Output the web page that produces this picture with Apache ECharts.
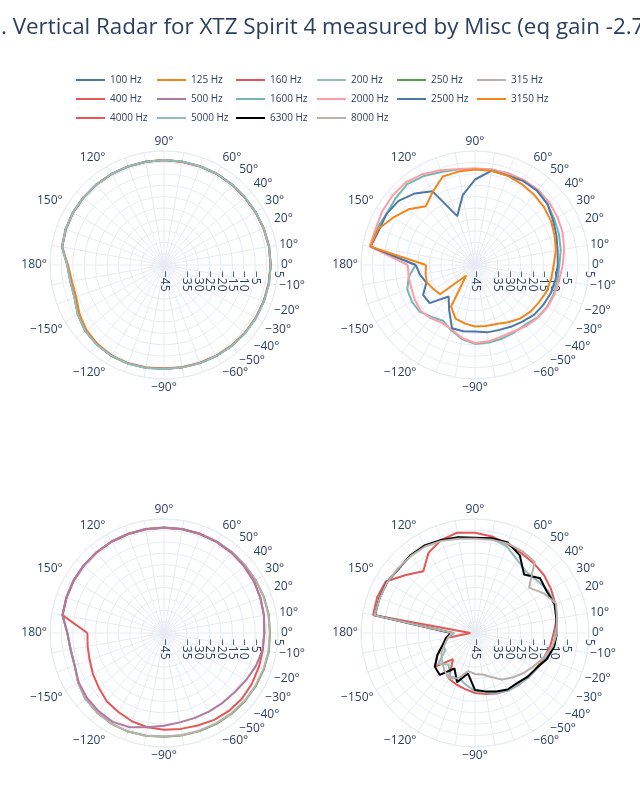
<!DOCTYPE html>
<html><head><meta charset="utf-8">
<script src="https://cdn.jsdelivr.net/npm/echarts@6/dist/echarts.min.js"></script>
<style>html,body{margin:0;padding:0;background:#fff}#c{width:640px;height:800px}</style>
</head><body><div id="c"></div>
<script>
// angles in degrees, -180 .. 170 step 10
const angles = [-180,-170,-160,-150,-140,-130,-120,-110,-100,-90,-80,-70,-60,-50,-40,-30,-20,-10,0,10,20,30,40,50,60,70,80,90,100,110,120,130,140,150,160,170];
const angleTickLabels = [0,10,20,30,40,50,60,90,120,150,180,-150,-120,-90,-60,-50,-40,-30,-20,-10];
const radialTicks = [-45,-40,-35,-30,-25,-20,-15,-10,-5,0,5];

// top-left
const hz100  = [-2.6,-3.3,-3.2,-1.4,0.1,0.7,1.0,1.0,0.8,0.5,0.6,0.8,1.0,1.2,1.4,1.5,1.6,1.7,1.8,1.8,1.6,1.4,1.2,1.2,1.2,1.1,1.0,1.0,1.0,1.0,1.1,1.1,1.1,1.1,0.9,0.4];
const hz125  = [-2.9,-4.0,-4.0,-2.2,-0.6,0.3,0.8,0.9,0.7,0.4,0.5,0.7,0.9,1.1,1.3,1.4,1.5,1.6,1.7,1.7,1.5,1.3,1.2,1.1,1.1,1.0,1.0,1.0,1.0,1.0,1.0,1.0,1.0,1.0,0.8,0.4];
const hz160  = [-2.6,-3.4,-3.3,-1.5,0.0,0.6,1.0,1.0,0.8,0.5,0.6,0.8,1.0,1.2,1.4,1.5,1.6,1.7,1.8,1.8,1.6,1.4,1.2,1.2,1.2,1.1,1.0,1.0,1.0,1.0,1.1,1.1,1.1,1.1,0.9,0.4];
const hz200  = [-2.5,-3.3,-3.2,-1.4,0.1,0.7,1.0,1.1,0.9,0.6,0.7,0.9,1.1,1.3,1.5,1.6,1.7,1.8,1.8,1.8,1.6,1.4,1.3,1.2,1.2,1.1,1.1,1.0,1.0,1.0,1.1,1.1,1.1,1.1,0.9,0.4];
// bottom-left
const hz250  = [-2.6,-3.4,-3.3,-1.5,0.0,0.6,1.0,1.0,0.8,0.5,0.6,0.8,1.0,1.2,1.4,1.5,1.6,1.7,1.5,1.6,1.6,1.4,1.3,1.3,1.3,1.3,1.3,1.3,1.3,1.2,1.2,1.1,1.0,0.9,0.6,0.2];
const hz315  = [-2.6,-3.4,-3.3,-1.5,0.0,0.6,1.0,1.0,0.8,0.4,0.5,0.6,0.8,1.0,1.2,1.3,1.4,1.5,1.4,1.5,1.5,1.4,1.3,1.3,1.3,1.3,1.3,1.3,1.3,1.2,1.2,1.1,1.0,0.9,0.6,0.2];
const hz400  = [-11.4,-11.0,-10.3,-9.0,-7.7,-5.9,-5.0,-3.8,-3.0,-2.6,-2.3,-1.8,-1.0,-0.5,-0.3,-0.5,-0.8,-1.0,-1.0,-0.5,0.0,0.5,0.8,1.0,1.1,1.2,1.2,1.2,1.2,1.2,1.2,1.1,1.0,0.8,0.5,0.2];
const hz500  = [-2.6,-3.4,-3.3,-1.8,-0.8,-0.3,0.0,-1.0,-3.0,-4.3,-5.2,-5.4,-5.3,-5.0,-4.6,-3.5,-2.2,-1.2,-1.0,-0.5,0.0,0.5,0.8,1.0,1.1,1.2,1.2,1.2,1.2,1.2,1.2,1.1,1.0,0.8,0.5,0.2];
// top-right
const hz1600 = [-19.0,-15.5,-13.4,-13.0,-13.2,-15.3,-16.8,-14.5,-12.0,-10.4,-10.5,-10.6,-10.8,-10.8,-9.2,-8.5,-8.2,-8.2,-8.0,-6.8,-5.8,-4.8,-3.5,-2.6,-2.2,-2.3,-2.5,-2.8,-2.5,-1.6,0.0,1.3,0.5,-0.2,1.0,1.5];
const hz2000 = [-15.5,-15.5,-15.3,-14.5,-13.8,-14.6,-15.8,-15.0,-12.5,-10.8,-11.0,-11.5,-11.3,-10.0,-9.0,-8.2,-7.8,-7.5,-6.5,-5.3,-4.0,-3.2,-2.4,-1.9,-2.0,-2.2,-2.6,-2.7,-2.3,-0.8,1.0,2.3,2.3,2.0,1.4,1.9];
const hz2500 = [-19.0,-20.5,-22.3,-18.7,-19.0,-27.0,-22.3,-15.5,-15.5,-15.8,-15.0,-14.6,-13.7,-12.6,-11.1,-10.3,-9.5,-9.1,-8.7,-8.2,-7.0,-5.5,-3.5,-2.5,-2.5,-3.2,-3.0,-7.5,-13.9,-22.2,-7.6,-4.0,-1.2,-0.2,-0.2,1.5];
const hz3150 = [-23.5,-23.0,-22.5,-24.0,-25.0,-39.0,-24.0,-20.0,-19.0,-18.0,-17.8,-17.5,-16.0,-14.3,-13.2,-12.5,-11.5,-11.0,-10.5,-9.0,-7.8,-6.5,-5.5,-4.7,-4.0,-3.3,-3.0,-3.1,-3.4,-3.7,-7.9,-11.4,-7.0,-3.5,0.5,1.5];
// bottom-right
const hz4000 = [-43.0,-33.0,-30.0,-26.0,-22.0,-30.0,-22.0,-21.0,-20.0,-18.7,-17.8,-16.8,-16.0,-15.3,-14.7,-14.0,-13.0,-11.5,-10.5,-8.5,-7.5,-6.5,-5.5,-5.0,-4.5,-3.5,-2.0,-1.0,-0.3,-1.6,-4.3,-9.7,-5.4,0.2,0.7,0.4];
const hz5000 = [-36.0,-33.0,-30.0,-30.0,-24.0,-27.0,-23.0,-24.0,-22.0,-19.5,-18.5,-17.0,-16.0,-15.5,-14.5,-13.5,-12.0,-10.5,-9.5,-8.5,-7.5,-8.0,-9.3,-10.0,-8.0,-4.5,-3.0,-3.3,-2.5,-1.8,-1.0,-1.0,-1.0,-0.5,-0.3,-0.2];
const hz6300 = [-34.5,-32.0,-30.0,-26.0,-22.0,-21.0,-27.0,-22.0,-27.0,-20.0,-19.0,-17.7,-16.4,-16.3,-15.0,-14.0,-11.5,-9.8,-9.0,-8.8,-7.9,-8.6,-7.7,-11.5,-5.7,-2.8,-2.8,-3.2,-2.4,-1.6,-0.7,-0.7,-1.3,-0.4,-0.4,-0.4];
const hz8000 = [-35.0,-33.0,-31.0,-28.0,-26.0,-24.0,-22.0,-24.0,-28.0,-27.0,-26.5,-24.5,-21.5,-19.5,-17.5,-15.5,-13.0,-10.5,-9.0,-8.5,-7.2,-10.2,-14.0,-4.3,-3.5,-3.2,-3.5,-3.7,-3.0,-2.0,-1.2,-1.0,-1.0,-0.5,-0.5,-0.3];

const seriesDefs = [
  ['100 Hz', hz100, '#4C78A8', 0], ['125 Hz', hz125, '#F58518', 0], ['160 Hz', hz160, '#E45756', 0], ['200 Hz', hz200, '#8FBFBA', 0],
  ['250 Hz', hz250, '#54A24B', 2], ['315 Hz', hz315, '#BAB0AC', 2], ['400 Hz', hz400, '#E45756', 2], ['500 Hz', hz500, '#B279A2', 2],
  ['1600 Hz', hz1600, '#72B7B2', 1], ['2000 Hz', hz2000, '#FF9DA6', 1], ['2500 Hz', hz2500, '#4C78A8', 1], ['3150 Hz', hz3150, '#F58518', 1],
  ['4000 Hz', hz4000, '#E45756', 3], ['5000 Hz', hz5000, '#8FBFBA', 3], ['6300 Hz', hz6300, '#000000', 3], ['8000 Hz', hz8000, '#BAB0AC', 3]
];
const legendCols = [
  ['100 Hz','400 Hz','4000 Hz'], ['125 Hz','500 Hz','5000 Hz'], ['160 Hz','1600 Hz','6300 Hz'],
  ['200 Hz','2000 Hz','8000 Hz'], ['250 Hz','2500 Hz'], ['315 Hz','3150 Hz']
];
const legendX = [76, 157, 236, 317, 397, 477];

const centers = [[164,265],[475,265],[164,633],[475,633]];
const R = 114;
const grid = '#E6ECF4';
const txt = '#2a3f5f';
const fmtNum = v => v < 0 ? '\u2212' + (-v) : String(v);

const polar = centers.map(c => ({center: c, radius: R}));
const angleAxis = centers.map((c, i) => ({
  polarIndex: i, type: 'value', min: 0, max: 360, interval: 10, startAngle: 0, clockwise: false,
  axisLine: {show: true, lineStyle: {color: grid, width: 1}},
  axisTick: {show: false},
  splitLine: {show: true, lineStyle: {color: grid, width: 1}},
  axisLabel: {
    color: txt, fontSize: 12, fontFamily: 'Open Sans', margin: 3,
    formatter: v => {
      if (v >= 360) return '';
      const a = v > 180 ? v - 360 : v;
      return angleTickLabels.includes(a) ? fmtNum(a) + '\u00B0' : '';
    }
  }
}));
const radiusAxis = centers.map((c, i) => ({
  polarIndex: i, type: 'value', min: radialTicks[0], max: radialTicks[radialTicks.length - 1], interval: 5,
  axisLine: {show: false}, axisTick: {show: false},
  splitLine: {show: true, lineStyle: {color: grid, width: 1}},
  axisLabel: {
    show: true, showMinLabel: true, showMaxLabel: true,
    rotate: -90, verticalAlign: 'middle', margin: -30,
    color: txt, fontSize: 12, fontFamily: 'Open Sans',
    formatter: v => '{a|' + fmtNum(v) + '}',
    rich: {a: {width: 24, align: 'left', color: txt, fontSize: 12, fontFamily: 'Open Sans'}}
  }
}));

const series = seriesDefs.map(([name, vals, color, p]) => {
  const data = angles.map((a, i) => [vals[i], (a + 360) % 360]);
  data.push([vals[0], 180]);
  return {
    name, type: 'line', coordinateSystem: 'polar', polarIndex: p,
    data, symbol: 'none', smooth: false, color,
    lineStyle: {width: 2, color}, animation: false, z: 3
  };
});

const legend = legendCols.map((names, i) => ({
  orient: 'vertical', left: legendX[i], top: 73.5, padding: 0, itemWidth: 29, itemHeight: 2, itemGap: 6,
  icon: 'rect', data: names,
  textStyle: {fontSize: 10, color: txt, fontFamily: 'Open Sans', lineHeight: 13}
}));

const chart = echarts.init(document.getElementById('c'), null, {renderer: 'canvas'});
chart.setOption({
  backgroundColor: '#fff',
  animation: false,
  title: {
    text: '. Vertical Radar for XTZ Spirit 4 measured by Misc (eq gain -2.7dB)',
    left: -4, top: 12,
    textStyle: {fontSize: 22.4, fontWeight: 'normal', color: txt, fontFamily: 'Open Sans'}
  },
  legend, polar, angleAxis, radiusAxis, series
});
</script></body></html>
